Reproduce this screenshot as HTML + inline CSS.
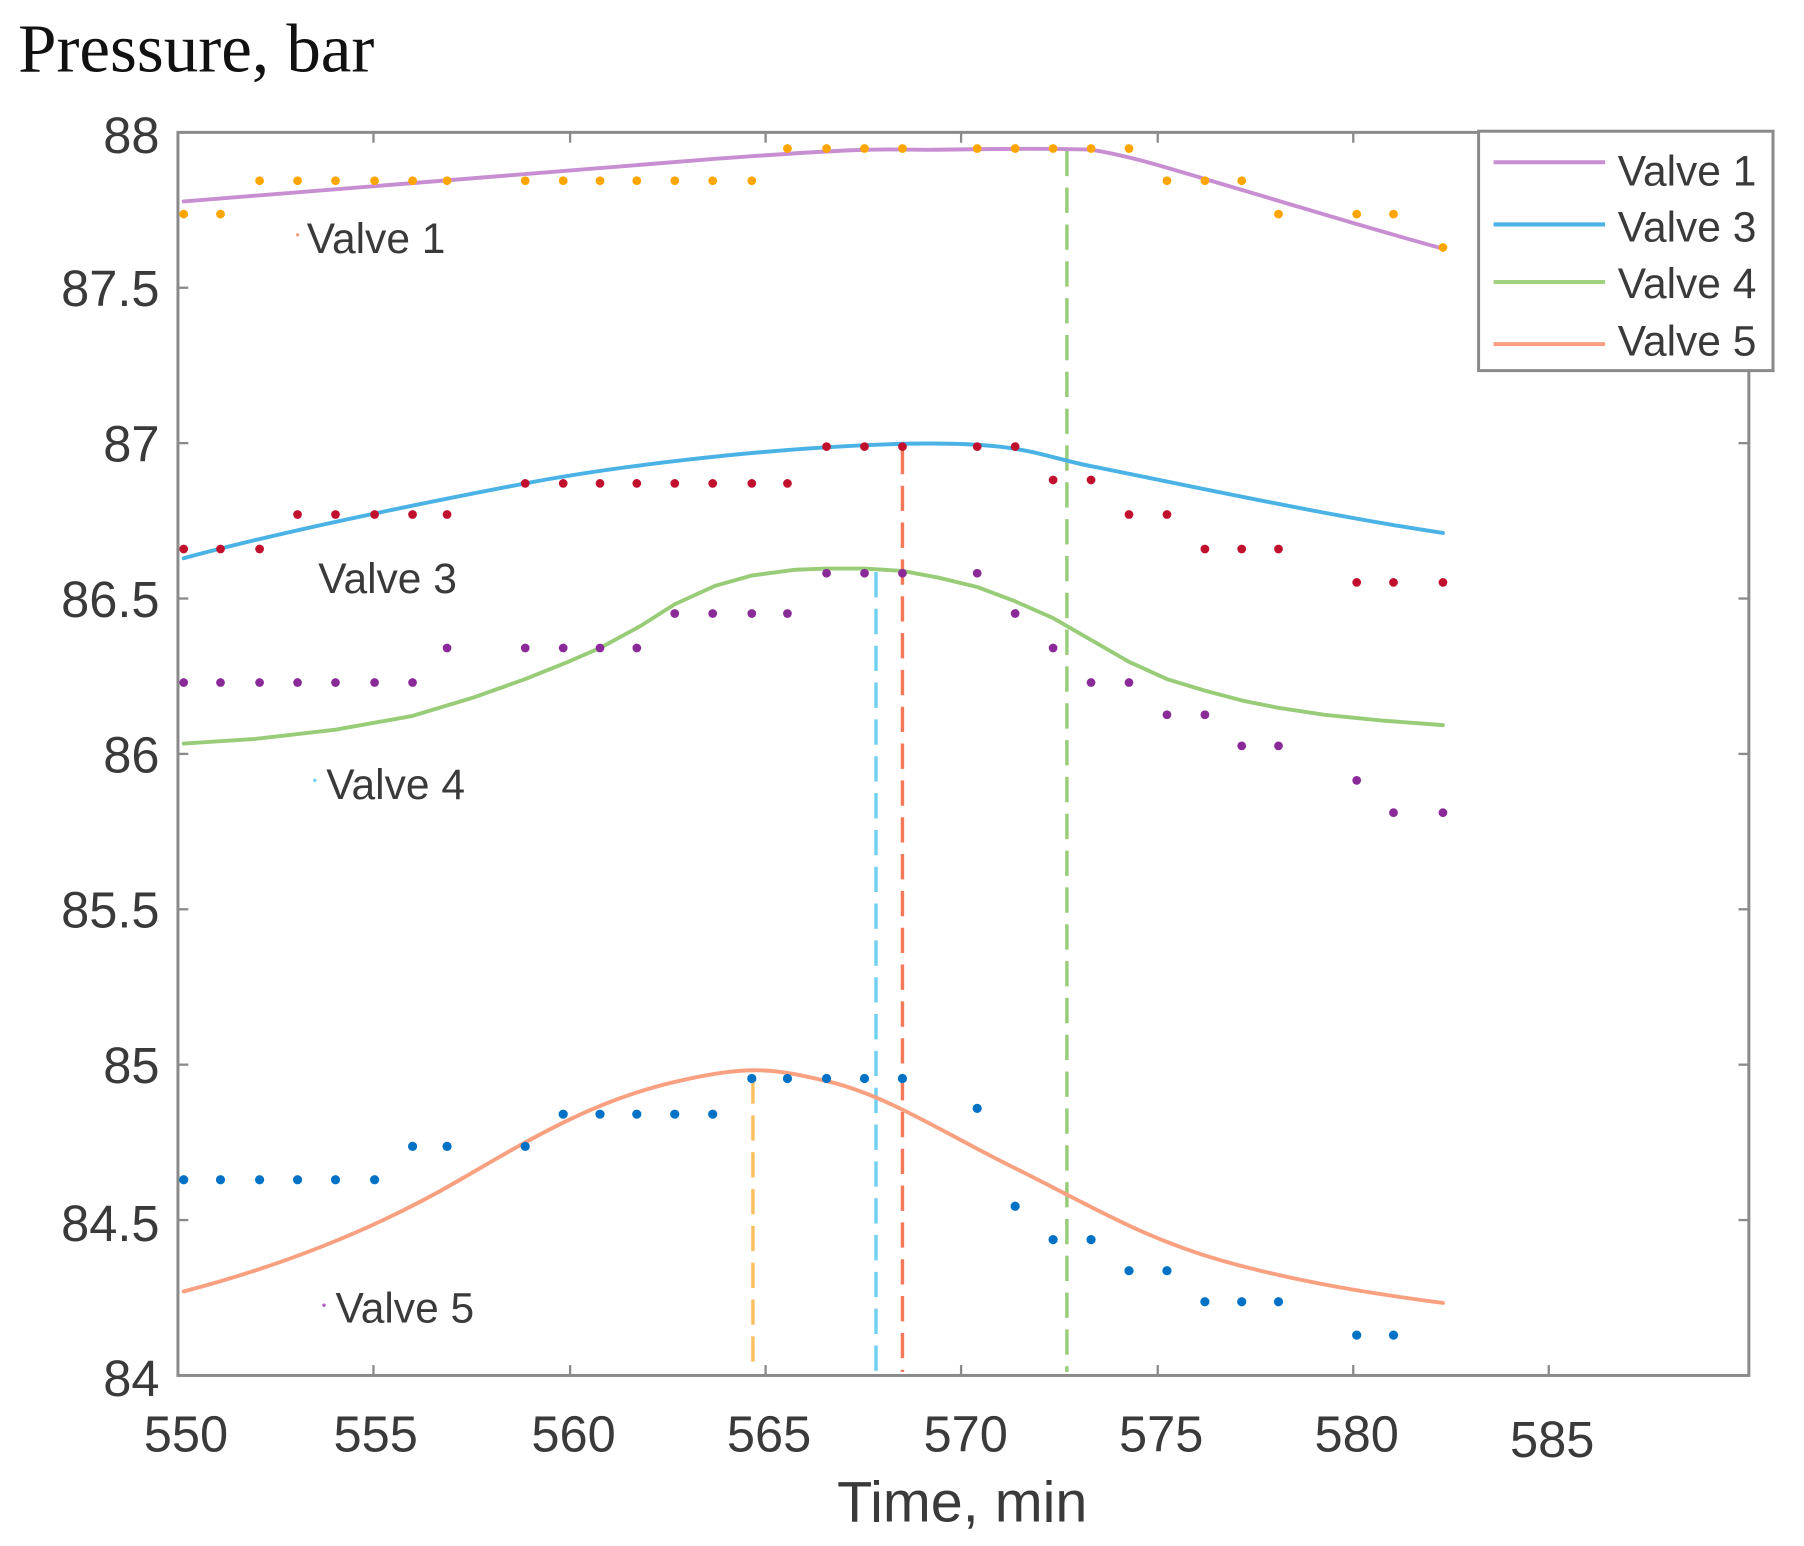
<!DOCTYPE html>
<html><head><meta charset="utf-8"><style>
html,body{margin:0;padding:0;background:#fff;}
svg{display:block;}
</style></head><body>
<svg width="1804" height="1546" viewBox="0 0 1804 1546" xmlns="http://www.w3.org/2000/svg">
<rect width="1804" height="1546" fill="#fff"/>
<g transform="matrix(1.150,0,0,1.151,2,0)">
<text x="14" y="62" font-family="Liberation Serif, serif" font-size="60" fill="#111">Pressure, bar</text>
<rect x="153" y="115" width="1366" height="1080" fill="none" stroke="#8a8a8a" stroke-width="2.6"/>
<g stroke="#8a8a8a" stroke-width="2">
<line x1="323" y1="1195" x2="323" y2="1186"/><line x1="494" y1="1195" x2="494" y2="1186"/><line x1="664" y1="1195" x2="664" y2="1186"/><line x1="834" y1="1195" x2="834" y2="1186"/><line x1="1005" y1="1195" x2="1005" y2="1186"/><line x1="1175" y1="1195" x2="1175" y2="1186"/><line x1="1345" y1="1195" x2="1345" y2="1186"/>
<line x1="323" y1="115" x2="323" y2="124"/><line x1="494" y1="115" x2="494" y2="124"/><line x1="664" y1="115" x2="664" y2="124"/><line x1="834" y1="115" x2="834" y2="124"/><line x1="1005" y1="115" x2="1005" y2="124"/><line x1="1175" y1="115" x2="1175" y2="124"/>
<line x1="153" y1="250" x2="162" y2="250"/><line x1="153" y1="385" x2="162" y2="385"/><line x1="153" y1="520" x2="162" y2="520"/><line x1="153" y1="655" x2="162" y2="655"/><line x1="153" y1="790" x2="162" y2="790"/><line x1="153" y1="925" x2="162" y2="925"/><line x1="153" y1="1060" x2="162" y2="1060"/>
<line x1="1519" y1="385" x2="1510" y2="385"/><line x1="1519" y1="520" x2="1510" y2="520"/><line x1="1519" y1="655" x2="1510" y2="655"/><line x1="1519" y1="790" x2="1510" y2="790"/><line x1="1519" y1="925" x2="1510" y2="925"/><line x1="1519" y1="1060" x2="1510" y2="1060"/>
</g>
<g font-family="Liberation Sans, sans-serif" font-size="44" fill="#3a3a3a" text-anchor="end">
<text x="137" y="133">88</text><text x="137" y="266">87.5</text><text x="137" y="401">87</text><text x="137" y="536">86.5</text><text x="137" y="671">86</text><text x="137" y="806">85.5</text><text x="137" y="941">85</text><text x="137" y="1078">84.5</text><text x="137" y="1213">84</text>
</g>
<g font-family="Liberation Sans, sans-serif" font-size="44" fill="#3a3a3a" text-anchor="middle">
<text x="160" y="1261">550</text><text x="325" y="1261">555</text><text x="497" y="1261">560</text><text x="667" y="1261">565</text><text x="838" y="1261">570</text><text x="1008" y="1261">575</text><text x="1178" y="1261">580</text><text x="1348" y="1266">585</text>
<text x="835" y="1322" font-size="50">Time, min</text>
</g>
<g stroke-width="3" stroke-dasharray="22,10" fill="none">
<line x1="653" y1="937" x2="653" y2="1192" stroke="#f8c060"/>
<line x1="760" y1="497" x2="760" y2="1192" stroke="#6fd0f2"/>
<line x1="783" y1="390" x2="783" y2="1192" stroke="#f27a5a"/>
<line x1="926" y1="131" x2="926" y2="1192" stroke="#98cc78"/>
</g>
<g fill="none" stroke-width="3.4" stroke-linecap="round" stroke-linejoin="round">
<path stroke="#c88ed2" d="M158,175 C300,163 455,150 620,138 S760,131 820,130 S914,129 947,130 C985,136 1020,148 1078,165 S1180,196 1253,216"/>
<path stroke="#4ab2e4" d="M158,485 C250,460 387,433 455,420 S652,390 770,386 S900,396 947,405 S1150,448 1253,463"/>
<polyline stroke="#98cc78" points="158,646 220,642 290,634 357,622 410,606 455,590 490,576 520,563 555,544 585,525 620,509 652,500 690,495 717,494 750,494 783,496 815,502 848,510 880,522 914,537 947,556 980,575 1013,590 1046,600 1080,609 1110,615 1150,621 1200,626 1253,630"/>
<path stroke="#f8a080" d="M158,1122 C250,1098 330,1065 400,1024 S520,955 585,940 S670,928 720,940 S820,985 881,1015 S990,1075 1060,1095 S1200,1125 1253,1132"/>
</g>
<g fill="#ffa500">
<circle cx="158" cy="186" r="3.8"/><circle cx="190" cy="186" r="3.8"/><circle cx="224" cy="157" r="3.8"/><circle cx="257" cy="157" r="3.8"/><circle cx="290" cy="157" r="3.8"/><circle cx="324" cy="157" r="3.8"/><circle cx="357" cy="157" r="3.8"/><circle cx="387" cy="157" r="3.8"/><circle cx="455" cy="157" r="3.8"/><circle cx="488" cy="157" r="3.8"/><circle cx="520" cy="157" r="3.8"/><circle cx="552" cy="157" r="3.8"/><circle cx="585" cy="157" r="3.8"/><circle cx="618" cy="157" r="3.8"/><circle cx="652" cy="157" r="3.8"/><circle cx="683" cy="129" r="3.8"/><circle cx="717" cy="129" r="3.8"/><circle cx="750" cy="129" r="3.8"/><circle cx="783" cy="129" r="3.8"/><circle cx="848" cy="129" r="3.8"/><circle cx="881" cy="129" r="3.8"/><circle cx="914" cy="129" r="3.8"/><circle cx="947" cy="129" r="3.8"/><circle cx="980" cy="129" r="3.8"/><circle cx="1013" cy="157" r="3.8"/><circle cx="1046" cy="157" r="3.8"/><circle cx="1078" cy="157" r="3.8"/><circle cx="1110" cy="186" r="3.8"/><circle cx="1178" cy="186" r="3.8"/><circle cx="1210" cy="186" r="3.8"/><circle cx="1253" cy="215" r="3.8"/>
</g>
<g fill="#c0102e">
<circle cx="158" cy="477" r="3.8"/><circle cx="190" cy="477" r="3.8"/><circle cx="224" cy="477" r="3.8"/><circle cx="257" cy="447" r="3.8"/><circle cx="290" cy="447" r="3.8"/><circle cx="324" cy="447" r="3.8"/><circle cx="357" cy="447" r="3.8"/><circle cx="387" cy="447" r="3.8"/><circle cx="455" cy="420" r="3.8"/><circle cx="488" cy="420" r="3.8"/><circle cx="520" cy="420" r="3.8"/><circle cx="552" cy="420" r="3.8"/><circle cx="585" cy="420" r="3.8"/><circle cx="618" cy="420" r="3.8"/><circle cx="652" cy="420" r="3.8"/><circle cx="683" cy="420" r="3.8"/><circle cx="717" cy="388" r="3.8"/><circle cx="750" cy="388" r="3.8"/><circle cx="783" cy="388" r="3.8"/><circle cx="848" cy="388" r="3.8"/><circle cx="881" cy="388" r="3.8"/><circle cx="914" cy="417" r="3.8"/><circle cx="947" cy="417" r="3.8"/><circle cx="980" cy="447" r="3.8"/><circle cx="1013" cy="447" r="3.8"/><circle cx="1046" cy="477" r="3.8"/><circle cx="1078" cy="477" r="3.8"/><circle cx="1110" cy="477" r="3.8"/><circle cx="1178" cy="506" r="3.8"/><circle cx="1210" cy="506" r="3.8"/><circle cx="1253" cy="506" r="3.8"/>
</g>
<g fill="#8a2a98">
<circle cx="158" cy="593" r="3.8"/><circle cx="190" cy="593" r="3.8"/><circle cx="224" cy="593" r="3.8"/><circle cx="257" cy="593" r="3.8"/><circle cx="290" cy="593" r="3.8"/><circle cx="324" cy="593" r="3.8"/><circle cx="357" cy="593" r="3.8"/><circle cx="387" cy="563" r="3.8"/><circle cx="455" cy="563" r="3.8"/><circle cx="488" cy="563" r="3.8"/><circle cx="520" cy="563" r="3.8"/><circle cx="552" cy="563" r="3.8"/><circle cx="585" cy="533" r="3.8"/><circle cx="618" cy="533" r="3.8"/><circle cx="652" cy="533" r="3.8"/><circle cx="683" cy="533" r="3.8"/><circle cx="717" cy="498" r="3.8"/><circle cx="750" cy="498" r="3.8"/><circle cx="783" cy="498" r="3.8"/><circle cx="848" cy="498" r="3.8"/><circle cx="881" cy="533" r="3.8"/><circle cx="914" cy="563" r="3.8"/><circle cx="947" cy="593" r="3.8"/><circle cx="980" cy="593" r="3.8"/><circle cx="1013" cy="621" r="3.8"/><circle cx="1046" cy="621" r="3.8"/><circle cx="1078" cy="648" r="3.8"/><circle cx="1110" cy="648" r="3.8"/><circle cx="1178" cy="678" r="3.8"/><circle cx="1210" cy="706" r="3.8"/><circle cx="1253" cy="706" r="3.8"/>
</g>
<g fill="#0072c6">
<circle cx="158" cy="1025" r="4"/><circle cx="190" cy="1025" r="4"/><circle cx="224" cy="1025" r="4"/><circle cx="257" cy="1025" r="4"/><circle cx="290" cy="1025" r="4"/><circle cx="324" cy="1025" r="4"/><circle cx="357" cy="996" r="4"/><circle cx="387" cy="996" r="4"/><circle cx="455" cy="996" r="4"/><circle cx="488" cy="968" r="4"/><circle cx="520" cy="968" r="4"/><circle cx="552" cy="968" r="4"/><circle cx="585" cy="968" r="4"/><circle cx="618" cy="968" r="4"/><circle cx="652" cy="937" r="4"/><circle cx="683" cy="937" r="4"/><circle cx="717" cy="937" r="4"/><circle cx="750" cy="937" r="4"/><circle cx="783" cy="937" r="4"/><circle cx="848" cy="963" r="4"/><circle cx="881" cy="1048" r="4"/><circle cx="914" cy="1077" r="4"/><circle cx="947" cy="1077" r="4"/><circle cx="980" cy="1104" r="4"/><circle cx="1013" cy="1104" r="4"/><circle cx="1046" cy="1131" r="4"/><circle cx="1078" cy="1131" r="4"/><circle cx="1110" cy="1131" r="4"/><circle cx="1178" cy="1160" r="4"/><circle cx="1210" cy="1160" r="4"/>
</g>
<g font-family="Liberation Sans, sans-serif" font-size="37" fill="#3a3a3a">
<circle cx="257" cy="204" r="1.5" fill="#f4a080"/><text x="265" y="220">Valve 1</text>
<text x="275" y="515">Valve 3</text>
<circle cx="272" cy="678" r="1.5" fill="#6fd0f2"/><text x="282" y="694">Valve 4</text>
<circle cx="280" cy="1134" r="1.5" fill="#b060c0"/><text x="290" y="1149">Valve 5</text>
</g>
<rect x="1284" y="114" width="256" height="208" fill="#fff" stroke="#8a8a8a" stroke-width="2.6"/>
<g stroke-width="3.5">
<line x1="1297" y1="141" x2="1394" y2="141" stroke="#c88ed2"/>
<line x1="1297" y1="195" x2="1394" y2="195" stroke="#4ab2e4"/>
<line x1="1297" y1="245" x2="1394" y2="245" stroke="#a0d080"/>
<line x1="1297" y1="299" x2="1394" y2="299" stroke="#f8a080"/>
</g>
<g font-family="Liberation Sans, sans-serif" font-size="37" fill="#3a3a3a">
<text x="1405" y="161">Valve 1</text><text x="1405" y="210">Valve 3</text><text x="1405" y="259">Valve 4</text><text x="1405" y="309">Valve 5</text>
</g>
</g>
</svg>
</body></html>
